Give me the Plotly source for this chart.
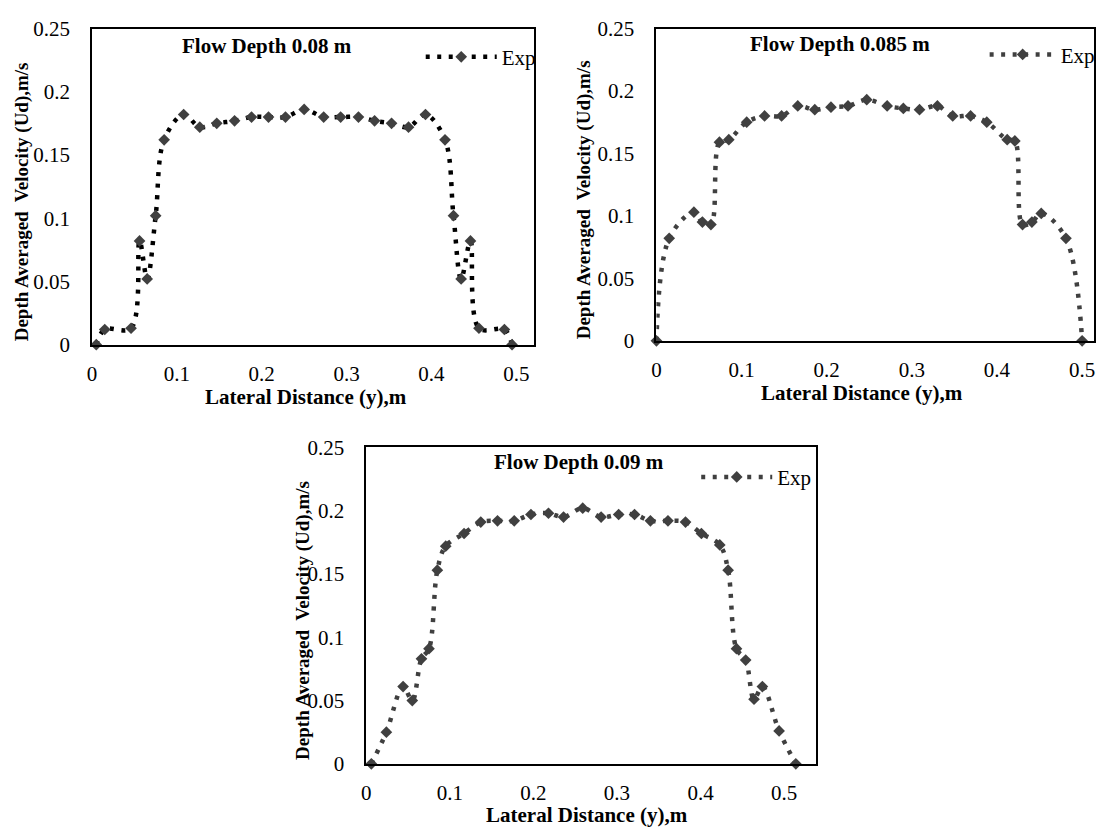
import plotly.graph_objects as go

W, H = 1103, 837

# ---------------- data ----------------
y_lat_080 = [0.005, 0.015, 0.046, 0.056, 0.065, 0.075, 0.085, 0.108, 0.127, 0.147, 0.168, 0.188, 0.208, 0.228,
             0.250, 0.273, 0.293, 0.314, 0.333, 0.353, 0.373, 0.393, 0.416, 0.426, 0.435, 0.446, 0.456, 0.486, 0.495]
ud_080 = [0.000, 0.012, 0.013, 0.082, 0.052, 0.102, 0.162, 0.182, 0.172, 0.175, 0.177, 0.180, 0.180, 0.180,
          0.186, 0.180, 0.180, 0.180, 0.177, 0.175, 0.172, 0.182, 0.162, 0.102, 0.052, 0.082, 0.013, 0.012, 0.000]

y_lat_085 = [0.000, 0.015, 0.044, 0.054, 0.064, 0.074, 0.085, 0.106, 0.127, 0.147, 0.166, 0.186, 0.205, 0.225,
             0.247, 0.271, 0.290, 0.309, 0.330, 0.348, 0.369, 0.388, 0.412, 0.421, 0.430, 0.441, 0.452, 0.481, 0.500]
ud_085 = [0.000, 0.082, 0.103, 0.095, 0.093, 0.159, 0.161, 0.175, 0.180, 0.180, 0.188, 0.185, 0.187, 0.188,
          0.193, 0.188, 0.186, 0.185, 0.188, 0.180, 0.180, 0.175, 0.161, 0.160, 0.093, 0.095, 0.102, 0.082, 0.000]

y_lat_090 = [0.006, 0.024, 0.044, 0.055, 0.066, 0.075, 0.085, 0.095, 0.117, 0.137, 0.157, 0.177, 0.197, 0.218,
             0.236, 0.259, 0.281, 0.302, 0.321, 0.340, 0.361, 0.382, 0.401, 0.423, 0.433, 0.443, 0.454, 0.464,
             0.474, 0.494, 0.514]
ud_090 = [0.000, 0.025, 0.061, 0.050, 0.083, 0.091, 0.153, 0.172, 0.182, 0.191, 0.192, 0.192, 0.197, 0.198,
          0.195, 0.202, 0.195, 0.197, 0.197, 0.192, 0.192, 0.191, 0.182, 0.173, 0.153, 0.091, 0.082, 0.051,
          0.061, 0.026, 0.000]

x_ticks = [0, 0.1, 0.2, 0.3, 0.4, 0.5]
x_tick_text = ["0", "0.1", "0.2", "0.3", "0.4", "0.5"]
y_ticks = [0, 0.05, 0.1, 0.15, 0.2, 0.25]
y_tick_text = ["0", "0.05", "0.1", "0.15", "0.2", "0.25"]

panel_titles = ["Flow Depth 0.08 m", "Flow Depth 0.085 m", "Flow Depth 0.09 m"]
series_name = "Exp"
x_title = "Lateral Distance (y),m"
y_title = "Depth Averaged\u00a0 Velocity (Ud),m/s"

# ---------------- layout helpers ----------------
FONT = "Liberation Serif"
FS = 21
MARKER_COLOR = "#404040"


def px(x):
    return x / W


def py(y):
    return 1 - y / H


# panel frames in pixel coords: left, right, top, bottom, xmax
panels = [
    dict(l=87.5, r=532, t=17, b=342.5, xmax=0.521, line="#000000",
         title_xy=(263, 34.5), ytitle_xy=(18, 195), xtitle_xy=(303, 396), leg_xy=(418, 46.5), legw=71),
    dict(l=655, r=1095, t=17, b=338.5, xmax=0.514, line=MARKER_COLOR,
         title_xy=(840, 33), ytitle_xy=(583, 193), xtitle_xy=(862, 392), leg_xy=(985, 44), legw=66),
    dict(l=363.3, r=815.3, t=448.3, b=774, xmax=0.538, line=MARKER_COLOR,
         title_xy=(577, 463), ytitle_xy=(299, 626.5), xtitle_xy=(585, 826.5), leg_xy=(695, 479), legw=71),
]

datasets = [(y_lat_080, ud_080), (y_lat_085, ud_085), (y_lat_090, ud_090)]

fig = go.Figure()
layout = dict(width=W, height=H, margin=dict(l=0, r=0, t=0, b=0), autosize=False,
              paper_bgcolor="white", plot_bgcolor="white",
              font=dict(family=FONT, size=FS, color="black"), annotations=[])

for i, (p, (xs, ys)) in enumerate(zip(panels, datasets)):
    n = "" if i == 0 else str(i + 1)
    leg = "legend" + n
    fig.add_trace(go.Scatter(
        x=xs, y=ys, name=series_name, mode="lines+markers",
        line=dict(shape="spline", smoothing=1.0, dash="4px,7.5px", width=4.5, color=p["line"]),
        marker=dict(symbol="diamond", size=9, color=MARKER_COLOR),
        xaxis="x" + n, yaxis="y" + n, cliponaxis=False, legend=leg, showlegend=True))

    axcommon = dict(showgrid=False, zeroline=False, showline=True, linecolor="black", linewidth=1.8,
                    mirror=True, ticks="", tickfont=dict(family=FONT, size=FS, color="black"))
    layout["xaxis" + n] = dict(axcommon, domain=[px(p["l"]), px(p["r"])], range=[0, p["xmax"]],
                               tickvals=x_ticks, ticktext=x_tick_text, anchor="y" + n,
                               ticklabelstandoff=9, fixedrange=True)
    layout["yaxis" + n] = dict(axcommon, domain=[py(p["b"]), py(p["t"])], range=[0, 0.25],
                               tickvals=y_ticks, ticktext=y_tick_text, anchor="x" + n,
                               ticklabelstandoff=16, fixedrange=True)
    layout[leg] = dict(x=px(p["leg_xy"][0]), y=py(p["leg_xy"][1]), xanchor="left", yanchor="middle",
                       bgcolor="rgba(0,0,0,0)", borderwidth=0, itemwidth=p["legw"],
                       font=dict(family=FONT, size=FS, color="black"))

    tx, ty = p["title_xy"]
    layout["annotations"].append(dict(text="<b>%s</b>" % panel_titles[i], x=px(tx), y=py(ty),
                                      xref="paper", yref="paper", showarrow=False,
                                      xanchor="center", yanchor="middle",
                                      font=dict(family=FONT, size=FS, color="black")))
    ax_, ay_ = p["ytitle_xy"]
    layout["annotations"].append(dict(text="<b>%s</b>" % y_title, x=px(ax_), y=py(ay_),
                                      xref="paper", yref="paper", showarrow=False, textangle=-90,
                                      xanchor="center", yanchor="middle",
                                      font=dict(family=FONT, size=19, color="black")))
    bx, by = p["xtitle_xy"]
    layout["annotations"].append(dict(text="<b>%s</b>" % x_title, x=px(bx), y=py(by),
                                      xref="paper", yref="paper", showarrow=False,
                                      xanchor="center", yanchor="middle",
                                      font=dict(family=FONT, size=FS, color="black")))

fig.update_layout(**layout)
fig.write_html("out.html", config={"displayModeBar": False},
               post_script="document.body.style.margin='0';document.body.style.overflow='hidden';")
